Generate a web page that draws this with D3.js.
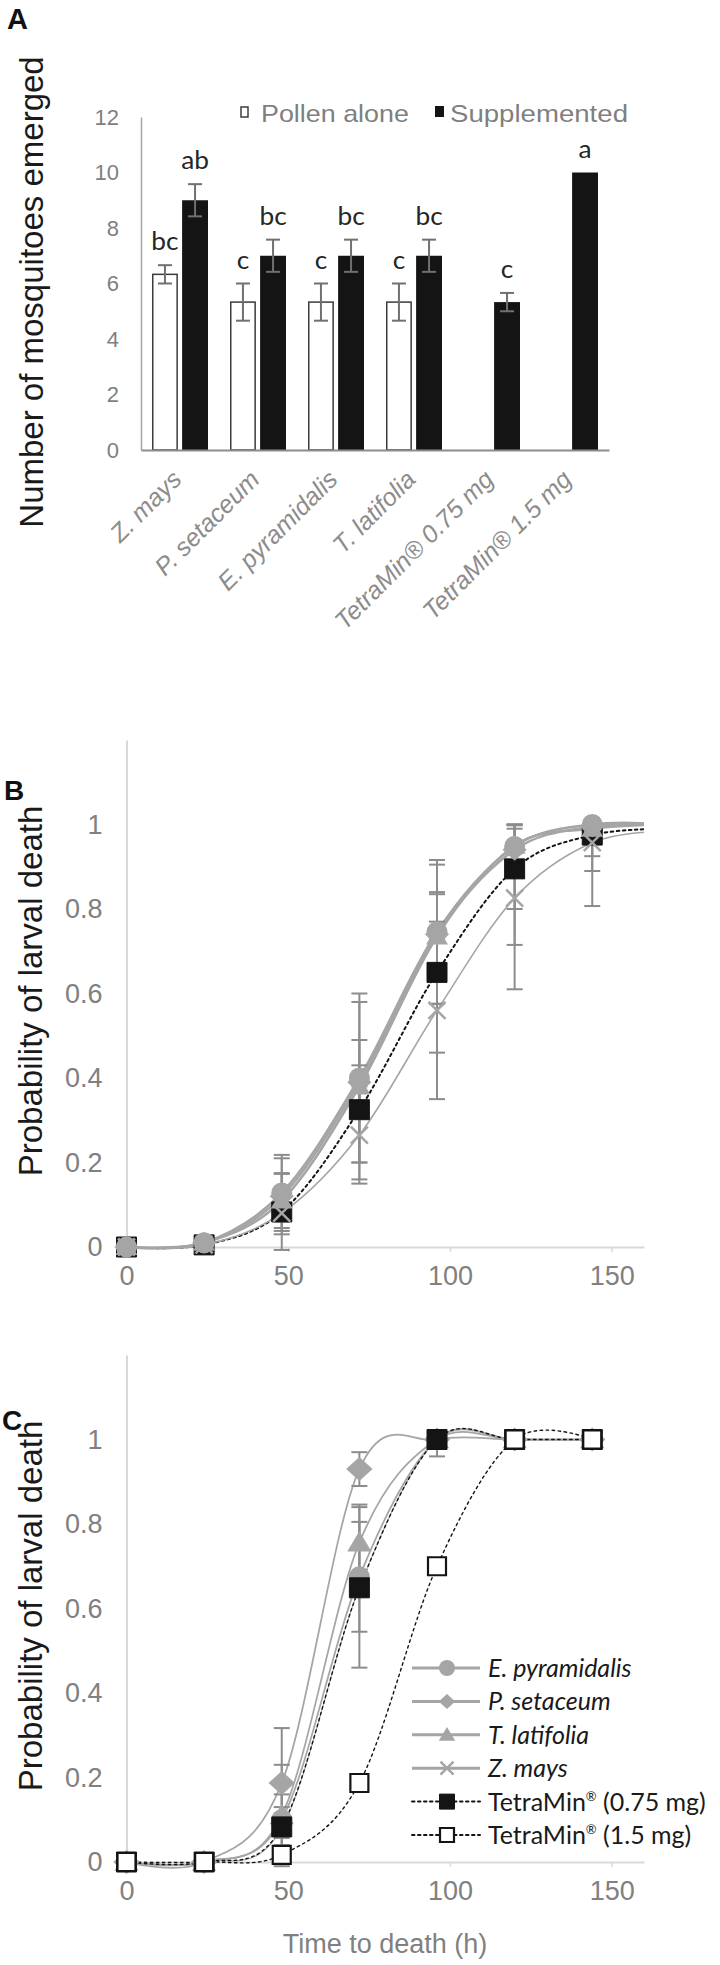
<!DOCTYPE html>
<html>
<head>
<meta charset="utf-8">
<script src="https://cdn.jsdelivr.net/npm/d3@7"></script>
<style>
  body { margin: 0; background: #fff; }
</style>
</head>
<body>
<svg id="chart" width="720" height="1965"></svg>
<script>
// ---------- panel A : emergence ----------
var categories = ["Z. mays", "P. setaceum", "E. pyramidalis", "T. latifolia", "TetraMin\u00AE 0.75 mg", "TetraMin\u00AE 1.5 mg"];
var pollenAlone = [6.33, 5.33, 5.33, 5.33, null, null];
var pollenAloneErr = [0.33, 0.67, 0.67, 0.67, null, null];
var supplemented = [9, 7, 7, 7, 5.33, 10];
var supplementedErr = [0.58, 0.58, 0.58, 0.58, 0.33, 0];
var pollenLetters = ["bc", "c", "c", "c", "", ""];
var suppLetters = ["ab", "bc", "bc", "bc", "c", "a"];
var yTicksA = [0, 2, 4, 6, 8, 10, 12];

// ---------- panel B : probability of larval death (supplemented) ----------
var timesB = [0, 24, 48, 72, 96, 120, 144, 168];
var bTetra075 = [0, 0.005, 0.083, 0.325, 0.65, 0.895, 0.975, 0.99];
var bTetra075Err = [0, 0, 0.09, 0.165, 0.19, 0.18, 0.05, 0];
var bZmays = [0, 0.005, 0.08, 0.265, 0.56, 0.826, 0.957, 0.985];
var bZmaysErr = [0, 0, 0.02, 0.115, 0.21, 0.216, 0.15, 0];
var bTlat = [0, 0.01, 0.11, 0.38, 0.735, 0.95, 0.99, 1.0];
var bTlatErr = [0, 0, 0.065, 0.05, 0.1, 0.15, 0.1, 0];
var bPset = [0, 0.01, 0.12, 0.39, 0.74, 0.94, 0.995, 1.0];
var bPsetErr = [0, 0, 0.09, 0.19, 0.165, 0.05, 0.01, 0];
var bEpyr = [0, 0.01, 0.128, 0.40, 0.746, 0.948, 1.0, 1.0];
var bEpyrErr = [0, 0, 0.09, 0.2, 0.17, 0.05, 0.01, 0];

// ---------- panel C : probability of larval death (pollen alone) ----------
var timesC = [0, 24, 48, 72, 96, 120, 144];
var cEpyr = [0, 0, 0.10, 0.675, 1, 1, 1];
var cEpyrErr = [0, 0, 0.06, 0.13, 0, 0, 0];
var cPset = [0, 0, 0.187, 0.93, 1, 1, 1];
var cPsetErr = [0, 0, 0.13, 0.04, 0, 0, 0];
var cTlat = [0, 0, 0.11, 0.756, 1, 1, 1];
var cTlatErr = [0, 0, 0.12, 0.09, 0, 0, 0];
var cZmays = [0, 0, 0.08, 0.65, 1, 1, 1];
var cZmaysErr = [0, 0, 0.05, 0.19, 0.04, 0, 0];
var cTetra075 = [0, 0, 0.083, 0.649, 1, 1, 1];
var cTetra15 = [0, 0, 0.017, 0.187, 0.70, 1, 1];

var yTicksP = [0, 0.2, 0.4, 0.6, 0.8, 1];
var xTicksP = [0, 50, 100, 150];

var ARIAL = "'Liberation Sans', Arial, sans-serif";
var CALI = "Lato, 'Open Sans', sans-serif";
var GREY = "#a5a5a5";
var ERR = "#8c8c8c";
var BLACK = "#141414";

var svg = d3.select('#chart');
svg.append('rect').attr('width', 720).attr('height', 1965).attr('fill', '#fff');

//text helper, sx stretches glyphs horizontally
function txt(g, x, y, s, o) {
      o = o || {};
      var t = g.append('text')
            .attr('transform', 'translate(' + x + ',' + y + ') scale(' + (o.sx || 1) + ',1) rotate(' + (o.rot || 0) + ')')
            .attr('font-family', o.family || ARIAL)
            .attr('font-size', o.size || 20)
            .attr('fill', o.fill || '#222')
            .attr('text-anchor', o.anchor || 'start');
      if (o.weight) t.attr('font-weight', o.weight);
      if (o.style) t.attr('font-style', o.style);
      if (o.dy) t.attr('dy', o.dy);
      t.text(s);
      return t;
}

// ================= panel A =================
var gA = svg.append('g');
var xA0 = d3.scaleBand().domain(categories).range([141, 609]);
var xA1 = d3.scaleBand().domain(['pollen', 'supp']).range([11, 67]).paddingInner(0.14);
var yA = d3.scaleLinear().domain([0, 12]).range([450, 117]);

txt(gA, 7, 29, 'A', { size: 29, weight: 'bold', fill: '#111' });
txt(gA, 43, 292, 'Number of mosquitoes emerged', { size: 33, rot: -90, anchor: 'middle', fill: '#1a1a1a' });

//y axis
var yAxisA = gA.append('g')
      .attr('transform', 'translate(141,0)')
      .call(d3.axisLeft(yA).tickValues(yTicksA).tickSize(0).tickPadding(22));
yAxisA.select('.domain').attr('stroke', '#a6a6a6').attr('stroke-width', 1.5);
yAxisA.selectAll('text').attr('font-family', ARIAL).attr('font-size', 22).attr('fill', '#7f7f7f');

//bars
var barsA = gA.append('g');
categories.forEach(function (c, i) {
      var series = [
            { key: 'pollen', v: pollenAlone[i], e: pollenAloneErr[i], lab: pollenLetters[i] },
            { key: 'supp', v: supplemented[i], e: supplementedErr[i], lab: suppLetters[i] }
      ];
      series.forEach(function (d) {
            if (d.v === null) return;
            var x = xA0(c) + xA1(d.key);
            var w = xA1.bandwidth();
            barsA.append('rect')
                  .attr('x', d.key === 'pollen' ? x + 0.75 : x)
                  .attr('y', yA(d.v))
                  .attr('width', d.key === 'pollen' ? w - 1.5 : w)
                  .attr('height', yA(0) - yA(d.v))
                  .attr('fill', d.key === 'pollen' ? '#fff' : BLACK)
                  .attr('stroke', d.key === 'pollen' ? '#3c3c3c' : 'none')
                  .attr('stroke-width', 1.5);
            var cx = x + w / 2;
            if (d.e > 0) {
                  var eb = barsA.append('g').attr('stroke', '#707070').attr('stroke-width', 2);
                  eb.append('line').attr('x1', cx).attr('x2', cx).attr('y1', yA(d.v - d.e)).attr('y2', yA(d.v + d.e));
                  eb.append('line').attr('x1', cx - 7).attr('x2', cx + 7).attr('y1', yA(d.v - d.e)).attr('y2', yA(d.v - d.e));
                  eb.append('line').attr('x1', cx - 7).attr('x2', cx + 7).attr('y1', yA(d.v + d.e)).attr('y2', yA(d.v + d.e));
            }
            if (d.lab) {
                  txt(barsA, cx, yA(d.v + d.e) - 15, d.lab, { size: 25, family: CALI, anchor: 'middle', fill: '#262626', sx: 1.05 });
            }
      });
});

//x axis
var xAxisA = gA.append('g')
      .attr('transform', 'translate(0,450)')
      .call(d3.axisBottom(xA0).tickSize(0).tickSizeOuter(0));
xAxisA.select('.domain').attr('stroke', '#8c8c8c').attr('stroke-width', 2);
xAxisA.selectAll('text')
      .attr('x', null).attr('y', null).attr('dy', null)
      .attr('text-anchor', 'end')
      .attr('transform', 'translate(3,31) rotate(-45)')
      .attr('font-family', ARIAL).attr('font-size', 25).attr('font-style', 'italic')
      .attr('fill', '#8c8c8c');

//legend
var legA = gA.append('g');
legA.append('rect').attr('x', 241).attr('y', 107).attr('width', 7).attr('height', 10)
      .attr('fill', '#fff').attr('stroke', '#3c3c3c').attr('stroke-width', 1.5);
txt(legA, 261, 122, 'Pollen alone', { size: 24, sx: 1.12, fill: '#7f7f7f' });
legA.append('rect').attr('x', 435).attr('y', 106).attr('width', 9).attr('height', 11).attr('fill', BLACK);
txt(legA, 450, 122, 'Supplemented', { size: 24, sx: 1.15, fill: '#7f7f7f' });

// ================= shared helpers for the survival panels =================
var diamondSym = {
      draw: function (c, s) {
            var r = Math.sqrt(s) / 2;
            c.moveTo(0, -r); c.lineTo(r * 1.1, 0); c.lineTo(0, r); c.lineTo(-r * 1.1, 0); c.closePath();
      }
};
var crossSym = {
      draw: function (c, s) {
            var r = Math.sqrt(s) / 2;
            c.moveTo(-r, -r); c.lineTo(r, r); c.moveTo(r, -r); c.lineTo(-r, r);
      }
};
var squareSym = {
      draw: function (c, s) {
            var r = Math.sqrt(s) / 2;
            c.rect(-r, -r, 2 * r, 2 * r);
      }
};
var triSym = {
      draw: function (c, s) {
            var r = Math.sqrt(s) / 2;
            c.moveTo(0, -r * 1.05); c.lineTo(r * 1.1, r * 0.8); c.lineTo(-r * 1.1, r * 0.8); c.closePath();
      }
};
var circleSym = {
      draw: function (c, s) {
            var r = Math.sqrt(s) / 2;
            c.moveTo(r, 0); c.arc(0, 0, r, 0, 2 * Math.PI);
      }
};

//marker styles, size is the side length in px
var styles = {
      epyr: { sym: circleSym, size: 21, fill: GREY, stroke: 'none', line: GREY, lw: 2.5, dash: null },
      pset: { sym: diamondSym, size: 22, fill: GREY, stroke: 'none', line: GREY, lw: 2.5, dash: null },
      tlat: { sym: triSym, size: 20, fill: GREY, stroke: 'none', line: GREY, lw: 2.5, dash: null },
      zmays: { sym: crossSym, size: 17, fill: 'none', stroke: GREY, sw: 2.5, line: GREY, lw: 1.6, dash: null },
      t075: { sym: squareSym, size: 20, fill: BLACK, stroke: BLACK, sw: 1, line: BLACK, lw: 2, dash: '2.5,3.5' },
      t15: { sym: squareSym, size: 18, fill: '#fff', stroke: BLACK, sw: 2.2, line: BLACK, lw: 2, dash: '2.5,3.5' }
};

function drawPanel(g, times, series, x, y, lineScale) {
      var line = d3.line()
            .x(function (d) { return x(d.t); })
            .y(function (d) { return y(d.v); })
            .curve(d3.curveCardinal.tension(0));
      var pts = function (s) { return times.map(function (t, i) { return { t: t, v: s.vals[i], e: s.err ? s.err[i] : 0 }; }); };
      //lines
      series.forEach(function (s) {
            var st = styles[s.key];
            g.append('path').datum(pts(s)).attr('d', line)
                  .attr('fill', 'none').attr('stroke', st.line)
                  .attr('stroke-width', st.lw * (lineScale || 1))
                  .attr('stroke-dasharray', st.dash)
                  .attr('stroke-linecap', st.dash ? 'round' : 'butt');
      });
      //error bars
      series.forEach(function (s) {
            pts(s).forEach(function (d) {
                  if (!d.e) return;
                  var lo = d.v - d.e, hi = Math.min(1, d.v + d.e);
                  var eb = g.append('g').attr('stroke', ERR).attr('stroke-width', 2);
                  eb.append('line').attr('x1', x(d.t)).attr('x2', x(d.t)).attr('y1', y(lo)).attr('y2', y(hi));
                  [lo, hi].forEach(function (v) {
                        eb.append('line').attr('x1', x(d.t) - 8).attr('x2', x(d.t) + 8).attr('y1', y(v)).attr('y2', y(v));
                  });
            });
      });
      //markers
      series.forEach(function (s) {
            var st = styles[s.key];
            var sym = d3.symbol().type(st.sym).size((s.msize || st.size) * (s.msize || st.size));
            g.selectAll(null).data(pts(s)).enter().append('path')
                  .attr('transform', function (d) { return 'translate(' + x(d.t) + ',' + y(d.v) + ')'; })
                  .attr('d', sym)
                  .attr('fill', st.fill)
                  .attr('stroke', st.stroke)
                  .attr('stroke-width', st.sw || 0);
      });
}

function drawAxes(g, x, y, y0) {
      var ya = g.append('g').attr('transform', 'translate(' + x.range()[0] + ',0)')
            .call(d3.axisLeft(y).tickValues(yTicksP).tickFormat(String).tickSize(0).tickPadding(24));
      ya.select('.domain').attr('stroke', '#d9d9d9').attr('stroke-width', 2);
      ya.selectAll('text').attr('font-family', ARIAL).attr('font-size', 27).attr('fill', '#808080');
      var xa = g.append('g').attr('transform', 'translate(0,' + y0 + ')')
            .call(d3.axisBottom(x).tickValues(xTicksP).tickSizeInner(5).tickSizeOuter(0).tickPadding(14));
      xa.select('.domain').attr('stroke', '#d9d9d9').attr('stroke-width', 2);
      xa.selectAll('line').attr('stroke', '#d9d9d9').attr('stroke-width', 1.5);
      xa.selectAll('text').attr('font-family', ARIAL).attr('font-size', 27).attr('fill', '#808080');
}

// ================= panel B =================
var gB = svg.append('g');
var xB = d3.scaleLinear().domain([0, 160]).range([126.5, 644]);
var yB = d3.scaleLinear().domain([0, 1.2]).range([1247, 740]);
drawAxes(gB, xB, yB, 1247);
txt(gB, 4, 800, 'B', { size: 28, weight: 'bold', fill: '#111' });
txt(gB, 42, 991, 'Probability of larval death', { size: 33, rot: -90, anchor: 'middle', fill: '#1a1a1a' });

svg.append('clipPath').attr('id', 'clipB').append('rect')
      .attr('x', 100).attr('y', 700).attr('width', 544).attr('height', 600);
var plotB = gB.append('g').attr('clip-path', 'url(#clipB)');
drawPanel(plotB, timesB, [
      { key: 't075', vals: bTetra075, err: bTetra075Err },
      { key: 'zmays', vals: bZmays, err: bZmaysErr },
      { key: 'tlat', vals: bTlat, err: bTlatErr },
      { key: 'pset', vals: bPset, err: bPsetErr },
      { key: 'epyr', vals: bEpyr, err: bEpyrErr }
], xB, yB, 1);

// ================= panel C =================
var gC = svg.append('g');
var xC = d3.scaleLinear().domain([0, 160]).range([126.5, 644]);
var yC = d3.scaleLinear().domain([0, 1.2]).range([1862, 1355]);
drawAxes(gC, xC, yC, 1862);
txt(gC, 2, 1430, 'C', { size: 28, weight: 'bold', fill: '#111' });
txt(gC, 42, 1606, 'Probability of larval death', { size: 33, rot: -90, anchor: 'middle', fill: '#1a1a1a' });
txt(gC, 385, 1953, 'Time to death (h)', { size: 27, anchor: 'middle', fill: '#808080' });

drawPanel(gC, timesC, [
      { key: 'epyr', vals: cEpyr, err: cEpyrErr },
      { key: 'pset', vals: cPset, err: cPsetErr, msize: 24 },
      { key: 'tlat', vals: cTlat, err: cTlatErr, msize: 22 },
      { key: 'zmays', vals: cZmays, err: cZmaysErr },
      { key: 't075', vals: cTetra075 },
      { key: 't15', vals: cTetra15 }
], xC, yC, 0.7);

//legend for C
var legendNames = [
      { key: 'epyr', label: 'E. pyramidalis', italic: true, ms: 16 },
      { key: 'pset', label: 'P. setaceum', italic: true, ms: 15 },
      { key: 'tlat', label: 'T. latifolia', italic: true, ms: 15 },
      { key: 'zmays', label: 'Z. mays', italic: true, ms: 13 },
      { key: 't075', label: 'TetraMin', sub: ' (0.75 mg)', ms: 15 },
      { key: 't15', label: 'TetraMin', sub: ' (1.5 mg)', ms: 14 }
];
var legY = d3.scalePoint().domain(legendNames.map(function (d) { return d.key; })).range([1668, 1835]);
var legC = gC.append('g');
legendNames.forEach(function (d) {
      var st = styles[d.key];
      var ly = legY(d.key);
      legC.append('line').attr('x1', 412).attr('x2', 480).attr('y1', ly).attr('y2', ly)
            .attr('stroke', st.line).attr('stroke-width', st.dash ? 2 : 3)
            .attr('stroke-dasharray', st.dash).attr('stroke-linecap', st.dash ? 'round' : 'butt');
      legC.append('path').attr('transform', 'translate(447,' + ly + ')')
            .attr('d', d3.symbol().type(st.sym).size(d.ms * d.ms))
            .attr('fill', st.fill).attr('stroke', st.stroke).attr('stroke-width', st.sw || 0);
      var t = txt(legC, 488, ly + 9, d.label, { size: 25, family: CALI, style: d.italic ? 'italic' : null, fill: '#1a1a1a' });
      if (d.sub) {
            t.append('tspan').attr('font-size', 13).attr('dy', -10).text('\u00AE');
            t.append('tspan').attr('dy', 10).text(d.sub);
      }
});
</script>
</body>
</html>
